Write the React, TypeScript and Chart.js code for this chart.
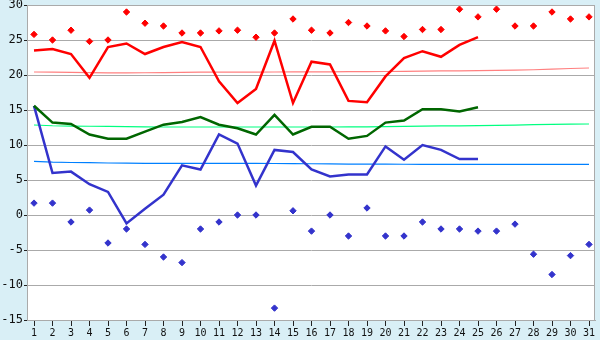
import React, { useEffect, useRef } from "react";
import { Chart, registerables } from "chart.js";

Chart.register(...registerables);

const days = [1,2,3,4,5,6,7,8,9,10,11,12,13,14,15,16,17,18,19,20,21,22,23,24,25,26,27,28,29,30,31];

const meanMax = [23.5,23.7,23.0,19.6,24.0,24.5,23.0,24.0,24.7,24.0,19.1,16.0,18.0,24.9,16.0,21.9,21.5,16.3,16.1,19.8,22.4,23.4,22.6,24.3,25.4];
const meanTemp = [15.6,13.2,13.0,11.5,10.9,10.9,11.9,12.9,13.3,14.0,12.9,12.4,11.5,14.3,11.5,12.6,12.6,10.9,11.3,13.2,13.5,15.1,15.1,14.8,15.4];
const meanMin = [15.6,6.0,6.2,4.4,3.3,-1.2,0.9,2.9,7.1,6.5,11.5,10.2,4.2,9.3,9.0,6.5,5.5,5.8,5.8,9.8,7.9,10.0,9.3,8.0,8.0];

const recordMax = [25.8,25.0,26.4,24.8,25.0,29.0,27.4,27.0,26.0,26.0,26.3,26.4,25.4,26.0,28.0,26.4,26.0,27.5,27.0,26.3,25.5,26.5,26.5,29.4,28.3,29.4,27.0,27.0,29.0,28.0,28.3];
const recordMin = [1.7,1.7,-1.0,0.7,-4.0,-2.0,-4.2,-6.0,-6.8,-2.0,-1.0,0.0,0.0,-13.3,0.6,-2.3,0.0,-3.0,1.0,-3.0,-3.0,-1.0,-2.0,-2.0,-2.3,-2.3,-1.3,-5.6,-8.5,-5.8,-4.2];

const normalMax = [20.43,20.4,20.38,20.33,20.3,20.3,20.32,20.35,20.37,20.4,20.4,20.4,20.42,20.43,20.44,20.45,20.46,20.47,20.48,20.5,20.52,20.55,20.58,20.6,20.63,20.67,20.7,20.75,20.84,20.93,21.0];
const normalMean = [12.86,12.75,12.7,12.68,12.65,12.62,12.6,12.57,12.57,12.57,12.57,12.57,12.57,12.57,12.57,12.57,12.57,12.58,12.6,12.62,12.65,12.7,12.72,12.74,12.77,12.8,12.85,12.9,12.95,12.98,13.0];
const normalMin = [7.67,7.55,7.5,7.47,7.43,7.4,7.38,7.38,7.38,7.38,7.38,7.38,7.37,7.36,7.34,7.32,7.3,7.28,7.27,7.26,7.25,7.24,7.24,7.24,7.24,7.24,7.24,7.24,7.24,7.24,7.24];

const yTicks = [-15,-10,-5,0,5,10,15,20,25,30];

const toPts = (arr: (number | null)[]) =>
  arr.map((v, i) => ({ x: days[i], y: v })).filter((p) => p.y !== null && p.y !== undefined);

const bgPlugin = {
  id: "bg",
  beforeDraw(chart: any) {
    const { ctx, chartArea } = chart;
    ctx.save();
    ctx.fillStyle = "#d9eff6";
    ctx.fillRect(0, 0, chart.width, chart.height);
    ctx.fillStyle = "#ffffff";
    ctx.fillRect(chartArea.left, chartArea.top, chartArea.right - chartArea.left, chartArea.bottom - chartArea.top);
    ctx.restore();
  },
  afterDraw(chart: any) {
    const { ctx, chartArea } = chart;
    ctx.save();
    ctx.strokeStyle = "#aaaaaa";
    ctx.lineWidth = 1;
    ctx.strokeRect(chartArea.left + 0.5, chartArea.top + 0.5, chartArea.right - chartArea.left - 1, chartArea.bottom - chartArea.top);
    ctx.restore();
  },
};

export default function App() {
  const ref = useRef<HTMLCanvasElement | null>(null);
  useEffect(() => {
    document.body.style.margin = "0";
    const line = (data: any[], color: string, width: number, order: number) => ({
      type: "line" as const,
      data,
      borderColor: color,
      backgroundColor: color,
      borderWidth: width,
      pointRadius: 0,
      tension: 0,
      fill: false,
      order,
    });
    const dots = (data: any[], color: string, order: number) => ({
      type: "scatter" as const,
      data,
      borderColor: color,
      backgroundColor: color,
      pointStyle: "rectRot",
      pointRadius: 3.2,
      borderWidth: 1,
      showLine: false,
      order,
    });
    const chart = new Chart(ref.current as HTMLCanvasElement, {
      type: "line",
      data: {
        datasets: [
          line(toPts(normalMax), "#ff8080", 1.2, 10),
          line(toPts(normalMean), "#00ff80", 1.2, 10),
          line(toPts(normalMin), "#0080ff", 1.2, 10),
          dots(toPts(recordMax), "#ff0000", 5),
          dots(toPts(recordMin), "#3333cc", 5),
          line(toPts(meanMax), "#ff0000", 2.5, 1),
          line(toPts(meanTemp), "#006600", 2.5, 1),
          line(toPts(meanMin), "#3333cc", 2.5, 1),
        ] as any,
      },
      options: {
        animation: false,
        responsive: false,
        devicePixelRatio: 1,
        layout: { padding: { top: 5, right: 5, left: 0, bottom: 0 } },
        plugins: { legend: { display: false }, tooltip: { enabled: false } },
        scales: {
          x: {
            type: "linear",
            min: 1 - 7 / 18.5,
            max: 31 + 6 / 18.5,
            afterBuildTicks: (axis: any) => {
              axis.ticks = days.map((v) => ({ value: v }));
            },
            afterFit: (s: any) => {
              s.height = 20;
              s.paddingLeft = 0;
              s.paddingRight = 0;
            },
            grid: { drawOnChartArea: false, drawTicks: true, tickLength: 6, tickColor: "#222", color: "#aaa" },
            border: { color: "#aaaaaa" },
            ticks: {
              autoSkip: false,
              maxRotation: 0,
              padding: 1,
              color: "#111",
              font: { family: "DejaVu Sans Mono", size: 10 },
            },
          },
          y: {
            type: "linear",
            min: -15,
            max: 30,
            afterBuildTicks: (axis: any) => {
              axis.ticks = yTicks.map((v) => ({ value: v }));
            },
            afterFit: (s: any) => {
              s.width = 27;
              s.paddingTop = 0;
              s.paddingBottom = 0;
            },
            grid: { color: "#aaaaaa", tickLength: 3, tickColor: "#222" },
            border: { color: "#aaaaaa" },
            ticks: {
              padding: 1,
              color: "#111",
              font: { family: "DejaVu Sans Mono", size: 12 },
            },
          },
        },
      } as any,
      plugins: [bgPlugin],
    });
    return () => chart.destroy();
  }, []);
  return (
    <div style={{ width: 600, height: 340 }}>
      <canvas ref={ref} width={600} height={340} style={{ display: "block" }} />
    </div>
  );
}
